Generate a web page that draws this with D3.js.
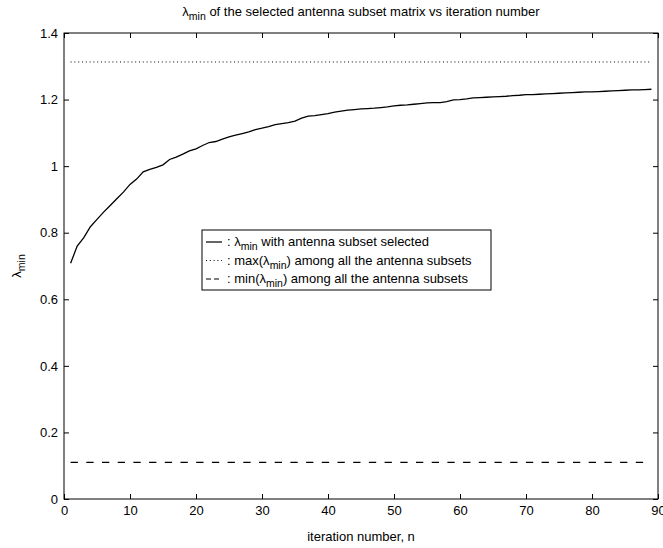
<!DOCTYPE html>
<html><head><meta charset="utf-8">
<script src="https://cdn.jsdelivr.net/npm/d3@7"></script>
<style>body{margin:0;background:#fff}svg{display:block}text{font-family:"Liberation Sans",Arial,sans-serif;fill:#000}</style>
</head><body><svg id="c" width="663" height="548"></svg>
<script>
const iterations = d3.range(1, 90);
const lambdaSelected = [0.708,0.760,0.785,0.818,0.840,0.862,0.882,0.902,0.922,0.945,
0.961,0.983,0.990,0.996,1.004,1.020,1.027,1.036,1.046,1.052,
1.062,1.071,1.074,1.081,1.088,1.093,1.098,1.103,1.110,1.114,
1.119,1.125,1.128,1.131,1.135,1.144,1.150,1.152,1.155,1.158,
1.162,1.165,1.168,1.170,1.172,1.173,1.174,1.176,1.178,1.181,
1.183,1.184,1.186,1.188,1.190,1.191,1.191,1.194,1.199,1.200,
1.202,1.205,1.206,1.207,1.208,1.209,1.210,1.212,1.213,1.215,
1.215,1.216,1.217,1.218,1.219,1.220,1.221,1.222,1.223,1.223,
1.224,1.225,1.226,1.227,1.228,1.229,1.229,1.230,1.231];
const lambdaMaxAll = 1.313;
const lambdaMinAll = 0.110;
const xTicks = [0,10,20,30,40,50,60,70,80,90];
const yTicks = [0,0.2,0.4,0.6,0.8,1,1.2,1.4];

const svg = d3.select("#c");
const L=64, R=658, T=33, B=499;
const FS = "13px", SUB = "10.5px";
const x = d3.scaleLinear().domain([0,90]).range([L,R]);
const y = d3.scaleLinear().domain([0,1.4]).range([B,T]);
const fmt = d => String(d);

svg.append("rect").attr("x",L).attr("y",T).attr("width",R-L).attr("height",B-T)
  .attr("fill","none").attr("stroke","#000").attr("stroke-width",1);

function styleAxis(g){ g.select(".domain").remove(); g.selectAll("line").attr("stroke","#000");
  g.selectAll("text").attr("font-size",FS).style("font-family","'Liberation Sans',Arial,sans-serif"); }
svg.append("g").attr("transform",`translate(0,${B})`)
  .call(d3.axisBottom(x).tickValues(xTicks).tickFormat(fmt).tickSizeInner(-5).tickSizeOuter(0).tickPadding(7))
  .call(styleAxis);
svg.append("g").attr("transform",`translate(0,${T})`)
  .call(d3.axisTop(x).tickValues(xTicks).tickFormat("").tickSizeInner(-5).tickSizeOuter(0))
  .call(styleAxis);
svg.append("g").attr("transform",`translate(${L},0)`)
  .call(d3.axisLeft(y).tickValues(yTicks).tickFormat(fmt).tickSizeInner(-5).tickSizeOuter(0).tickPadding(6))
  .call(styleAxis);
svg.append("g").attr("transform",`translate(${R},0)`)
  .call(d3.axisRight(y).tickValues(yTicks).tickFormat("").tickSizeInner(-5).tickSizeOuter(0))
  .call(styleAxis);

const line = d3.line().x((d,i)=>x(iterations[i])).y(d=>y(d));
svg.append("path").datum(lambdaSelected).attr("d",line).attr("fill","none").attr("stroke","#000").attr("stroke-width",1.3);
svg.append("path").datum(iterations.map(()=>lambdaMaxAll)).attr("d",line).attr("fill","none")
  .attr("stroke","#000").attr("stroke-width",1).attr("stroke-dasharray","1,2.8");
svg.append("path").datum(iterations.map(()=>lambdaMinAll)).attr("d",line).attr("fill","none")
  .attr("stroke","#000").attr("stroke-width",1.2).attr("stroke-dasharray","7.3,8.4");

const title = svg.append("text").attr("x",(L+R)/2).attr("y",16).attr("text-anchor","middle").attr("font-size",FS);
title.append("tspan").text("λ");
title.append("tspan").attr("font-size",SUB).attr("dy",4).text("min");
title.append("tspan").attr("dy",-4).text(" of the selected antenna subset matrix vs iteration number");

svg.append("text").attr("x",(L+R)/2).attr("y",541).attr("text-anchor","middle").attr("font-size",FS).text("iteration number, n");

const yl = svg.append("text").attr("transform",`translate(21,${(T+B)/2}) rotate(-90)`).attr("text-anchor","middle").attr("font-size",FS);
yl.append("tspan").text("λ");
yl.append("tspan").attr("font-size",SUB).attr("dy",4).text("min");

const lg = svg.append("g");
lg.append("rect").attr("x",202).attr("y",230).attr("width",289).attr("height",60).attr("fill","#fff").attr("stroke","#000").attr("stroke-width",1);
const items = [
  {dash:null, parts:[[": λ",0],["min",1],[" with antenna subset selected",0]]},
  {dash:"1,2.8", parts:[[": max(λ",0],["min",1],[") among all the antenna subsets",0]]},
  {dash:"5,3", parts:[[": min(λ",0],["min",1],[") among all the antenna subsets",0]]}
];
items.forEach((it,i)=>{
  const yy = 242 + i*18.5;
  const ln = lg.append("line").attr("x1",206).attr("x2",222).attr("y1",yy).attr("y2",yy).attr("stroke","#000").attr("stroke-width",1.2);
  if(it.dash) ln.attr("stroke-dasharray", it.dash);
  const t = lg.append("text").attr("x",227).attr("y",yy+4).attr("font-size",FS);
  let prevSub = 0;
  it.parts.forEach(([s,sub])=>{
    const ts = t.append("tspan").text(s);
    if(sub){ts.attr("font-size",SUB).attr("dy",4);}
    else if(prevSub){ts.attr("dy",-4);}
    prevSub = sub;
  });
});
</script></body></html>
